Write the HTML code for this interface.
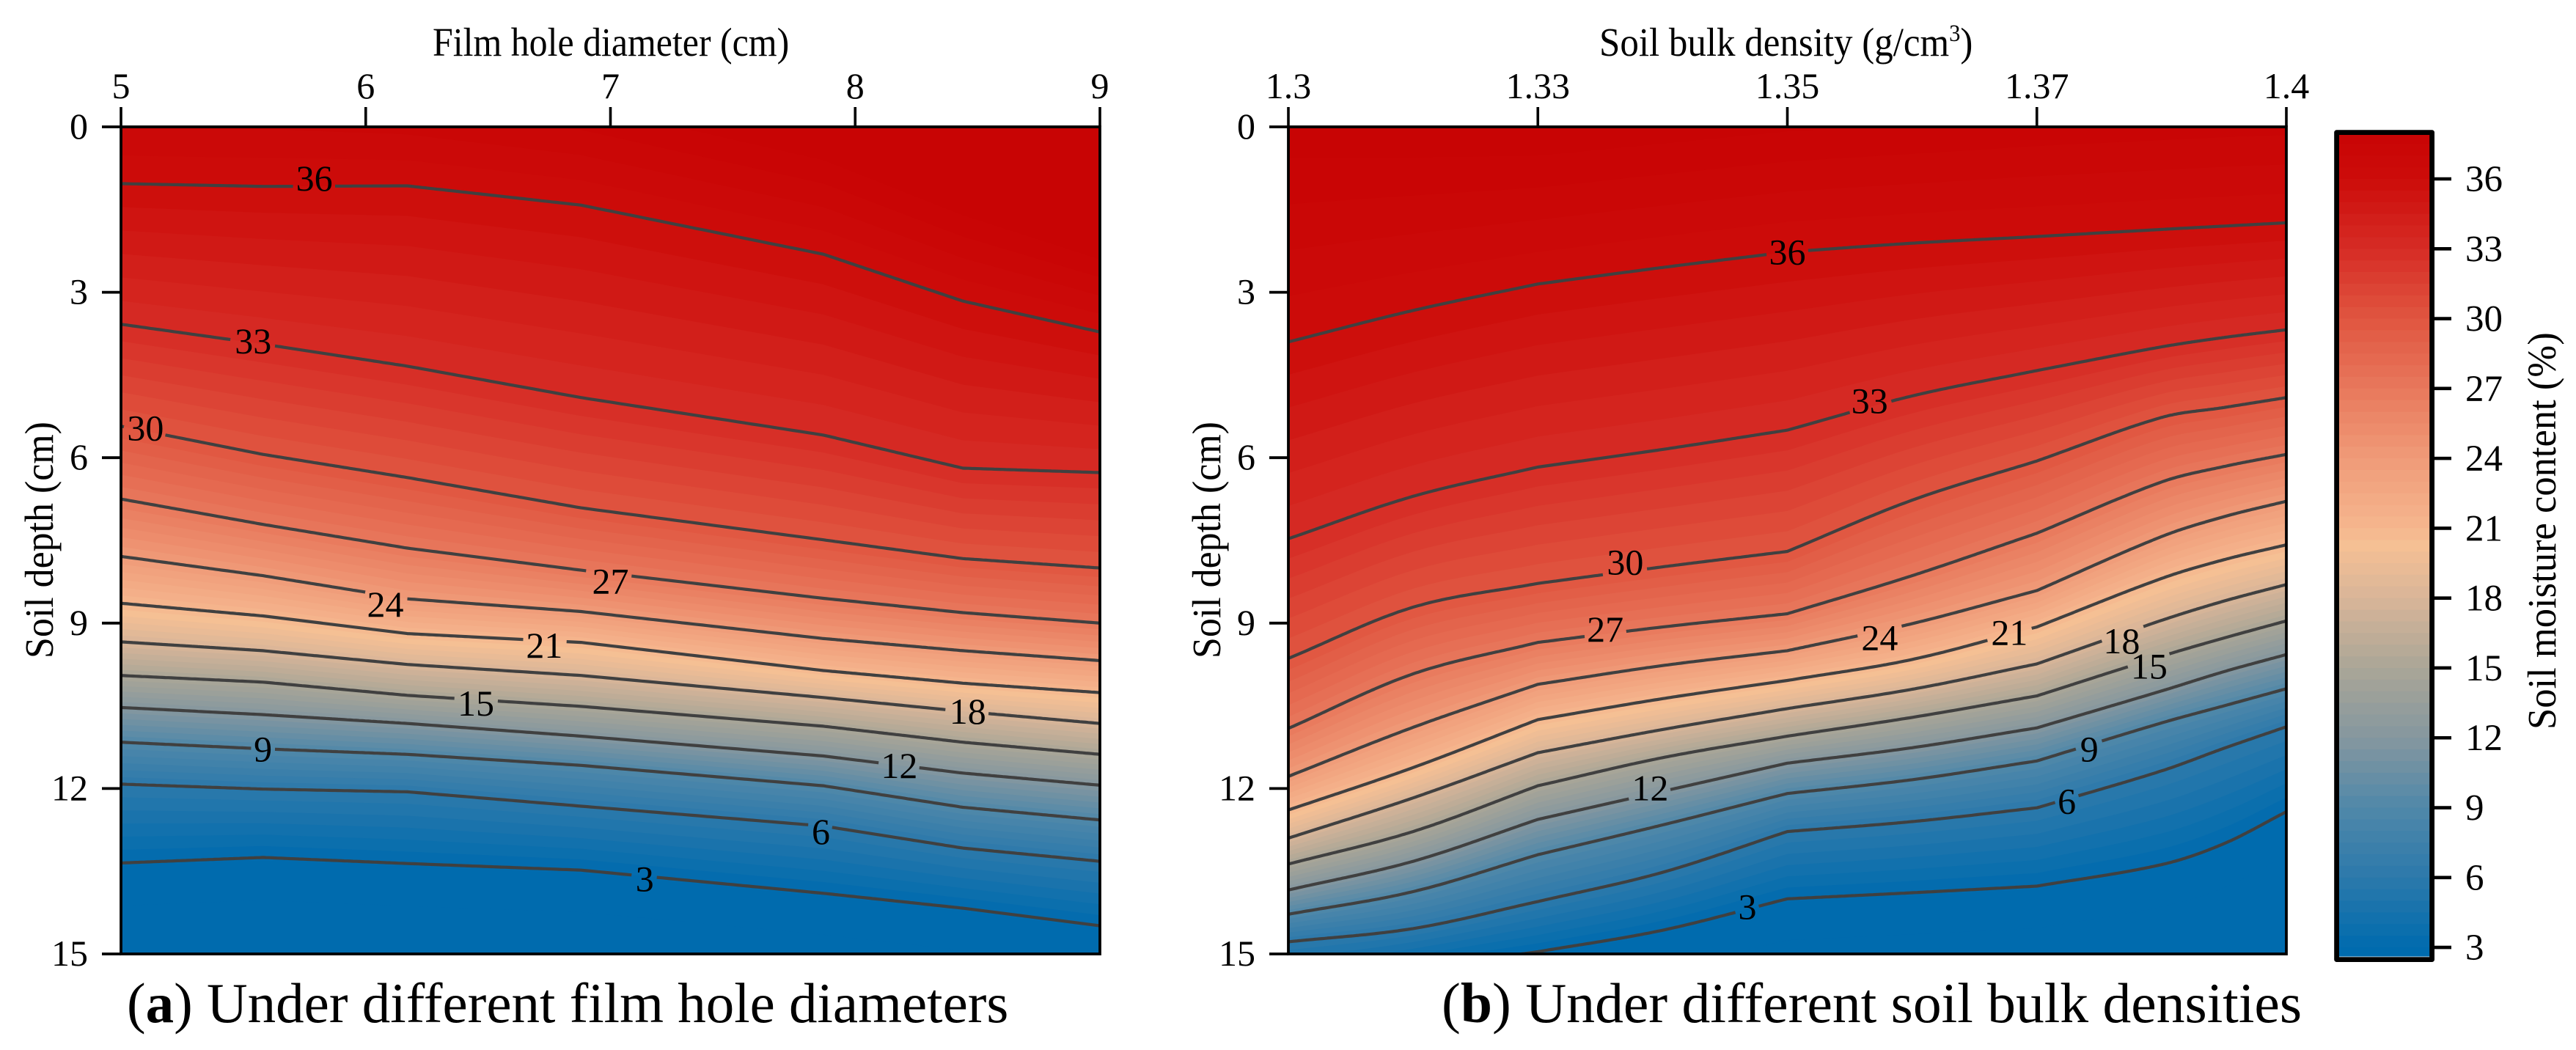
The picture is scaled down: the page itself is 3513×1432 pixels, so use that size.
<!DOCTYPE html>
<html lang="en">
<head>
<meta charset="utf-8">
<title>Soil moisture contours</title>
<style>
html,body{margin:0;padding:0;background:#fff;width:3513px;height:1432px;overflow:hidden}
svg{display:block}
text{font-family:"Liberation Serif",serif;fill:#000}
</style>
</head>
<body>
<svg id="chart" xmlns="http://www.w3.org/2000/svg" width="3513" height="1432" viewBox="0 0 3513 1432">
<text font-size="55" transform="translate(590,76) scale(0.907,1)">Film hole diameter (cm)</text>
<text font-size="55" transform="translate(2181,76) scale(0.927,1)">Soil bulk density (g/cm<tspan font-size="33" dy="-20">3</tspan><tspan dy="20">)</tspan></text>
<text font-size="55" transform="translate(72,898) rotate(-90) scale(0.944,1)">Soil depth (cm)</text>
<text font-size="55" transform="translate(1664,898) rotate(-90) scale(0.944,1)">Soil depth (cm)</text>
<text font-size="55" transform="translate(3485,995) rotate(-90) scale(0.956,1)">Soil moisture content (%)</text>
<text font-size="77" x="173" y="1394">(<tspan font-weight="bold">a</tspan>) Under different film hole diameters</text>
<text font-size="77.6" x="1966" y="1394">(<tspan font-weight="bold">b</tspan>) Under different soil bulk densities</text>
</svg>
<script>
// ---- shared data ----
const contourLevels = [36, 33, 30, 27, 24, 21, 18, 15, 12, 9, 6, 3];
const yTickLabels = [0, 3, 6, 9, 12, 15];
const colorbarTicks = [36, 33, 30, 27, 24, 21, 18, 15, 12, 9, 6, 3];

// ---- panel a: film hole diameter ----
const xTicksA = ['5', '6', '7', '8', '9'];
const xGridA = [5, 5.58, 6.17, 6.88, 7.87, 8.44, 9];
const surfaceDepthA = [-1, -1, -0.8, -0.4, 0.6, 1.6, 2.4];
const depthsA = [
  [1.03, 1.08, 1.07, 1.42, 2.31, 3.16, 3.72],
  [3.58, 3.94, 4.34, 4.91, 5.59, 6.19, 6.27],
  [5.43, 5.94, 6.36, 6.91, 7.49, 7.83, 8.00],
  [6.75, 7.21, 7.64, 8.04, 8.55, 8.81, 9.00],
  [7.79, 8.14, 8.56, 8.79, 9.28, 9.50, 9.68],
  [8.64, 8.87, 9.19, 9.35, 9.86, 10.09, 10.26],
  [9.34, 9.50, 9.75, 9.95, 10.35, 10.60, 10.82],
  [9.95, 10.07, 10.31, 10.51, 10.87, 11.16, 11.38],
  [10.53, 10.66, 10.82, 11.05, 11.41, 11.72, 11.94],
  [11.16, 11.28, 11.38, 11.58, 11.95, 12.34, 12.57],
  [11.92, 12.01, 12.06, 12.32, 12.68, 13.08, 13.32],
  [13.35, 13.25, 13.36, 13.48, 13.90, 14.17, 14.49]
];
const bottomDepthA = [14.9, 14.8, 14.9, 15, 15.4, 15.7, 16];
const labelXA = [5.79, 5.54, 5.10, 7.0, 6.08, 6.73, 8.46, 6.45, 8.18, 5.58, 7.86, 7.14];
const labelDepthA = [0.93, 3.88, 5.46, 8.24, 8.66, 9.40, 10.6, 10.45, 11.58, 11.28, 12.78, 13.64];
const kinksA = [5.58, 6.17, 6.88, 7.87, 8.44];

// ---- panel b: soil bulk density (evenly spaced categories) ----
const xTicksB = ['1.3', '1.33', '1.35', '1.37', '1.4'];
const xGridB = [0, 0.5, 1, 1.5, 2, 2.5, 3, 3.5, 3.75, 4];
const surfaceDepthB = [0.57, 0.55, 0.52, 0.3, 0.08, -0.05, -0.2, -0.3, -0.35, -0.38];
const depthsB = [
  [3.90, 3.33, 2.85, 2.55, 2.27, 2.11, 1.99, 1.86, 1.80, 1.74],
  [7.47, 6.70, 6.17, 5.85, 5.50, 4.88, 4.42, 3.99, 3.82, 3.68],
  [9.64, 8.71, 8.28, 7.98, 7.70, 6.77, 6.06, 5.27, 5.09, 4.91],
  [10.91, 9.92, 9.35, 9.07, 8.83, 8.14, 7.37, 6.44, 6.16, 5.94],
  [11.78, 10.89, 10.11, 9.77, 9.50, 9.01, 8.41, 7.43, 7.07, 6.79],
  [12.39, 11.62, 10.75, 10.37, 10.04, 9.66, 9.07, 8.19, 7.85, 7.58],
  [12.90, 12.17, 11.35, 10.93, 10.55, 10.20, 9.74, 8.95, 8.60, 8.30],
  [13.37, 12.78, 11.95, 11.44, 11.05, 10.71, 10.32, 9.60, 9.27, 8.96],
  [13.84, 13.32, 12.56, 12.05, 11.54, 11.26, 10.90, 10.23, 9.88, 9.57],
  [14.28, 13.87, 13.20, 12.66, 12.09, 11.84, 11.50, 10.81, 10.50, 10.19],
  [14.78, 14.54, 14.05, 13.52, 12.78, 12.60, 12.35, 11.68, 11.27, 10.88],
  [15.69, 15.27, 14.96, 14.57, 14.00, 13.89, 13.77, 13.38, 13.00, 12.42]
];
const bottomDepthB = [17, 16.8, 16.5, 16, 15.5, 15.4, 15.3, 14.9, 14.6, 14.0];
const labelXB = [2.0, 2.33, 1.35, 1.27, 2.37, 2.89, 3.34, 3.45, 1.45, 3.21, 3.12, 1.84];
const labelDepthB = [2.27, 4.97, 7.89, 9.11, 9.26, 9.17, 9.32, 9.78, 11.99, 11.28, 12.23, 14.14];
const kinksB = [1, 2, 3];

// ---- colour scale stops ----
const colorStopValues = [2.5, 3, 6, 9, 12, 15, 18, 20.3, 21, 24, 27, 30, 33, 36, 38];
const colorStopHex = ['#006bae', '#006bae', '#2c79ab', '#5088a9', '#85979f', '#aaa697', '#d9b598', '#f6c094', '#f5b68e', '#f09b78', '#e8785c', '#e05540', '#d62c25', '#cc0c0a', '#c80404'];

// ---- rendering ----
const NS = 'http://www.w3.org/2000/svg';
const svg = document.getElementById('chart');
const bandStep = 0.5;
const topLevel = 38;
const bottomLevel = 2;
const subdivisions = 8;

function make(tag, parent, attrs) {
  const el = document.createElementNS(NS, tag);
  for (const k in attrs) el.setAttribute(k, attrs[k]);
  parent.appendChild(el);
  return el;
}
function hexToRgb(h) {
  return [parseInt(h.slice(1, 3), 16), parseInt(h.slice(3, 5), 16), parseInt(h.slice(5, 7), 16)];
}
function colorFor(v) {
  if (v <= colorStopValues[0]) return colorStopHex[0];
  for (let i = 1; i < colorStopValues.length; i++) {
    if (v <= colorStopValues[i]) {
      const t = (v - colorStopValues[i - 1]) / (colorStopValues[i] - colorStopValues[i - 1]);
      const a = hexToRgb(colorStopHex[i - 1]);
      const b = hexToRgb(colorStopHex[i]);
      return 'rgb(' + a.map((c, j) => Math.round(c + (b[j] - c) * t)).join(',') + ')';
    }
  }
  return colorStopHex[colorStopHex.length - 1];
}
function depthAtLevel(level, col, levels, rows) {
  for (let r = 0; r < levels.length - 1; r++) {
    if (level <= levels[r] && level >= levels[r + 1]) {
      const t = (levels[r] - level) / (levels[r] - levels[r + 1]);
      return rows[r][col] + (rows[r + 1][col] - rows[r][col]) * t;
    }
  }
  return level > levels[0] ? rows[0][col] : rows[rows.length - 1][col];
}
// Hermite resampling of one curve; corners are kept at the listed kink positions.
function refineGrid(grid) {
  const out = [];
  for (let i = 0; i < grid.length - 1; i++) {
    for (let k = 0; k < subdivisions; k++) out.push(grid[i] + (grid[i + 1] - grid[i]) * k / subdivisions);
  }
  out.push(grid[grid.length - 1]);
  return out;
}
function refineRow(grid, row, kinks) {
  const n = grid.length;
  const isCorner = i => i === 0 || i === n - 1 || kinks.indexOf(grid[i]) >= 0;
  const secant = i => (row[i + 1] - row[i]) / (grid[i + 1] - grid[i]);
  const out = [];
  for (let i = 0; i < n - 1; i++) {
    const h = grid[i + 1] - grid[i];
    const m0 = isCorner(i) ? secant(i) : (row[i + 1] - row[i - 1]) / (grid[i + 1] - grid[i - 1]);
    const m1 = isCorner(i + 1) ? secant(i) : (row[i + 2] - row[i]) / (grid[i + 2] - grid[i]);
    for (let k = 0; k < subdivisions; k++) {
      const t = k / subdivisions, t2 = t * t, t3 = t2 * t;
      out.push((2 * t3 - 3 * t2 + 1) * row[i] + (t3 - 2 * t2 + t) * h * m0 + (-2 * t3 + 3 * t2) * row[i + 1] + (t3 - t2) * h * m1);
    }
  }
  out.push(row[n - 1]);
  return out;
}

function drawPanel(cfg) {
  const g = make('g', svg, {});
  
  
  const sx = v => cfg.left + (v - cfg.xMin) / (cfg.xMax - cfg.xMin) * (cfg.right - cfg.left);
  const sy = d => cfg.top + d / 15 * (cfg.bottom - cfg.top);

  const fineGrid = refineGrid(cfg.grid);
  const fineDepths = cfg.depths.map(r => refineRow(cfg.grid, r, cfg.kinks));
  const fineSurface = refineRow(cfg.grid, cfg.surface, cfg.kinks);
  const fineBottom = refineRow(cfg.grid, cfg.bottomRow, cfg.kinks);

  const clipId = cfg.name + '-clip';
  const defs = make('defs', g, {});
  const clip = make('clipPath', defs, { id: clipId });
  make('rect', clip, { x: cfg.left, y: cfg.top, width: cfg.right - cfg.left, height: cfg.bottom - cfg.top });

  const field = make('g', g, { 'clip-path': 'url(#' + clipId + ')' });
  
  

  const base = make('rect', field, { x: cfg.left, y: cfg.top, width: cfg.right - cfg.left, height: cfg.bottom - cfg.top, fill: colorFor(topLevel) });
  
  

  const levels = [topLevel].concat(contourLevels, [bottomLevel]);
  const rows = [fineSurface].concat(fineDepths, [fineBottom]);
  for (let L = topLevel; L > bottomLevel + 0.01; L -= bandStep) {
    const pts = fineGrid.map((xv, i) => sx(xv).toFixed(1) + ',' + sy(depthAtLevel(L, i, levels, rows)).toFixed(1));
    pts.push(cfg.right + ',' + (cfg.bottom + 5), cfg.left + ',' + (cfg.bottom + 5));
    const band = make('polygon', field, { points: pts.join(' '), fill: colorFor(L - bandStep / 2) });
    
    
  }

  contourLevels.forEach((level, r) => {
    const row = fineDepths[r];
    const lx = sx(cfg.labelX[r]);
    const ly = sy(cfg.labelDepth[r]);
    const halfGap = level >= 10 ? 27 : 15;
    const pts = fineGrid.map((xv, i) => [sx(xv), sy(row[i])]);
    const dense = [];
    for (let i = 0; i < pts.length - 1; i++) {
      const n = 6;
      for (let k = 0; k < n; k++) {
        const t = k / n;
        dense.push([pts[i][0] + (pts[i + 1][0] - pts[i][0]) * t, pts[i][1] + (pts[i + 1][1] - pts[i][1]) * t]);
      }
    }
    dense.push(pts[pts.length - 1]);
    const left = dense.filter(p => p[0] <= lx - halfGap);
    const right = dense.filter(p => p[0] >= lx + halfGap);
    [left, right].forEach(part => {
      if (part.length < 2) return;
      const line = make('polyline', field, {
        points: part.map(p => p[0].toFixed(1) + ',' + p[1].toFixed(1)).join(' '),
        fill: 'none', stroke: '#404040', 'stroke-width': 4.2, 'stroke-linejoin': 'round'
      });
      
      
    });
    const label = make('text', g, { x: lx, y: ly + 17, 'font-size': 50, 'text-anchor': 'middle' });
    label.textContent = String(level);
    
    
  });

  const frame = make('rect', g, { x: cfg.left, y: cfg.top, width: cfg.right - cfg.left, height: cfg.bottom - cfg.top, fill: 'none', stroke: '#000', 'stroke-width': 3.8 });
  
  

  cfg.xTicks.forEach((t, i) => {
    const x = cfg.left + i / (cfg.xTicks.length - 1) * (cfg.right - cfg.left);
    const tick = make('line', g, { x1: x, x2: x, y1: cfg.top - 27, y2: cfg.top, stroke: '#000', 'stroke-width': 3.6 });
    
    
    const lab = make('text', g, { x: x, y: 134, 'font-size': 50, 'text-anchor': 'middle' });
    lab.textContent = t;
    
    
  });
  yTickLabels.forEach(d => {
    const y = sy(d);
    const tick = make('line', g, { x1: cfg.left - 26, x2: cfg.left, y1: y, y2: y, stroke: '#000', 'stroke-width': 3.8 });
    
    
    const lab = make('text', g, { x: cfg.left - 45, y: y + 16, 'font-size': 50, 'text-anchor': 'end' });
    lab.textContent = String(d);
    
    
  });
}

drawPanel({
  name: 'panel-a-film-hole-diameter', left: 165, right: 1500, top: 173, bottom: 1301,
  xMin: 5, xMax: 9, grid: xGridA, depths: depthsA, surface: surfaceDepthA, bottomRow: bottomDepthA,
  labelX: labelXA, labelDepth: labelDepthA, kinks: kinksA, xTicks: xTicksA
});
drawPanel({
  name: 'panel-b-soil-bulk-density', left: 1757, right: 3118, top: 173, bottom: 1301,
  xMin: 0, xMax: 4, grid: xGridB, depths: depthsB, surface: surfaceDepthB, bottomRow: bottomDepthB,
  labelX: labelXB, labelDepth: labelDepthB, kinks: kinksB, xTicks: xTicksB
});

// colour bar
(function () {
  const g = make('g', svg, {});
  
  
  const yOf = v => 244 + (36 - v) * 31.76;
  const yTop = 184, yBot = 1304;
  const vTop = 36 + (244 - yTop) / 31.76;
  const vBot = 36 - (yBot - 244) / 31.76;
  for (let L = 38; L > 2; L -= bandStep) {
    const hi = Math.min(L, vTop), lo = Math.max(L - bandStep, vBot);
    if (hi <= lo) continue;
    const r = make('rect', g, { x: 3186, y: yOf(hi).toFixed(1), width: 130, height: (yOf(lo) - yOf(hi) + 0.6).toFixed(1), fill: colorFor(L - bandStep / 2) });
    
    
  }
  const border = make('rect', g, { x: 3186.6, y: 180.6, width: 130, height: 1128, fill: 'none', stroke: '#000', 'stroke-width': 6.8, 'stroke-linejoin': 'round' });
  
  
  colorbarTicks.forEach(v => {
    const y = yOf(v);
    const tick = make('line', g, { x1: 3320, x2: 3343, y1: y, y2: y, stroke: '#000', 'stroke-width': 4.6 });
    
    
    const lab = make('text', g, { x: 3362, y: y + 17, 'font-size': 51 });
    lab.textContent = String(v);
    
    
  });
})();
</script>
</body>
</html>
